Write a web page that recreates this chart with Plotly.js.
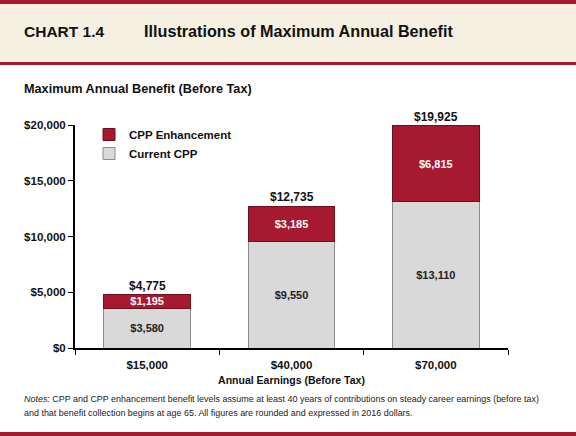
<!DOCTYPE html>
<html><head><meta charset="utf-8">
<script src="https://cdn.plot.ly/plotly-3.0.1.min.js"></script>
<style>html,body{margin:0;padding:0;background:#fff}</style>
</head><body>
<div id="chart" style="width:576px;height:436px"></div>
<script>
const categories = ['$15,000', '$40,000', '$70,000'];
const currentCPP = [3580, 9550, 13110];
const enhancement = [1195, 3185, 6815];
const yTicks = [0, 5000, 10000, 15000, 20000];
const yTickLabels = ['$0', '$5,000', '$10,000', '$15,000', '$20,000'];

const FONT = '"Liberation Sans Narrow", "Arial Narrow", "Liberation Sans", Arial, sans-serif';
const RED = '#A6192E';
const fmt = v => '$' + v.toLocaleString('en-US');

const totals = categories.map((c, i) => currentCPP[i] + enhancement[i]);

const traces = [
  {
    type: 'bar', name: 'Current CPP', x: categories, y: currentCPP,
    marker: {color: '#D9D9D9', line: {color: '#8C8C8C', width: 1}},
    text: currentCPP.map(fmt), textposition: 'inside', insidetextanchor: 'middle', constraintext: 'none',
    textfont: {family: FONT, size: 11, color: '#222', weight: 'bold'},
    hoverinfo: 'none', width: 0.6
  },
  {
    type: 'bar', name: 'CPP Enhancement', x: categories, y: enhancement,
    marker: {color: RED, line: {color: '#6E1020', width: 1}},
    text: enhancement.map(fmt), textposition: 'inside', insidetextanchor: 'middle', constraintext: 'none',
    textfont: {family: FONT, size: 11, color: '#fff', weight: 'bold'},
    hoverinfo: 'none', width: 0.6
  }
];

const annotations = categories.map((c, i) => ({
  x: c, y: totals[i], xref: 'x', yref: 'y', text: fmt(totals[i]),
  showarrow: false, yanchor: 'bottom', yshift: 0,
  font: {family: FONT, size: 12, color: '#111', weight: 'bold'}
}));

annotations.push(
  {xref: 'paper', yref: 'paper', x: -53/433, y: 1 + (125-31)/223, xanchor: 'left', yanchor: 'middle',
   text: '<b>CHART 1.4</b>', showarrow: false, font: {family: FONT, size: 15.5, color: '#111'}},
  {xref: 'paper', yref: 'paper', x: (142-75)/433, y: 1 + (125-31)/223, xanchor: 'left', yanchor: 'middle',
   text: '<b>Illustrations of Maximum Annual Benefit</b>', showarrow: false, font: {family: FONT, size: 16.2, color: '#111'}},
  {xref: 'paper', yref: 'paper', x: -53/433, y: 1 + (125-89)/223, xanchor: 'left', yanchor: 'middle',
   text: '<b>Maximum Annual Benefit (Before Tax)</b>', showarrow: false, font: {family: FONT, size: 12.7, color: '#111'}},
  {xref: 'paper', yref: 'paper', x: -53/433, y: -(399-348)/223, xanchor: 'left', yanchor: 'middle', align: 'left',
   text: '<i>Notes:</i> CPP and CPP enhancement benefit levels assume at least 40 years of contributions on steady career earnings (before tax)',
   showarrow: false, font: {family: FONT, size: 8.95, color: '#222'}},
  {xref: 'paper', yref: 'paper', x: -53/433, y: -(413-348)/223, xanchor: 'left', yanchor: 'middle', align: 'left',
   text: 'and that benefit collection begins at age 65. All figures are rounded and expressed in 2016 dollars.',
   showarrow: false, font: {family: FONT, size: 8.95, color: '#222'}}
);

const shapes = [
  {type: 'rect', xref: 'paper', yref: 'paper', x0: -1, x1: 2, y0: 1 + (125-62)/223, y1: 1 + (125-4)/223,
   fillcolor: '#F6F0E2', line: {width: 0}, layer: 'below'},
  {type: 'rect', xref: 'paper', yref: 'paper', x0: -1, x1: 2, y0: 1 + (125-4)/223, y1: 1 + 125/223,
   fillcolor: RED, line: {width: 0}},
  {type: 'rect', xref: 'paper', yref: 'paper', x0: -1, x1: 2, y0: 1 + (125-65)/223, y1: 1 + (125-62)/223,
   fillcolor: RED, line: {width: 0}},
  {type: 'rect', xref: 'paper', yref: 'paper', x0: -1, x1: 2, y0: -(436-348)/223, y1: -(432-348)/223,
   fillcolor: RED, line: {width: 0}}
];

const layout = {
  width: 576, height: 436,
  margin: {l: 75, r: 68, t: 125, b: 88},
  paper_bgcolor: '#fff', plot_bgcolor: '#fff',
  barmode: 'stack', bargap: 0.4,
  showlegend: true,
  legend: {x: (89-75)/433, y: 1 + 5/223, xanchor: 'left', yanchor: 'top', bgcolor: 'rgba(0,0,0,0)',
           font: {family: FONT, size: 11.5, color: '#111', weight: 'bold'}, itemwidth: 30, tracegroupgap: 2},
  xaxis: {
    type: 'category', tickson: 'boundaries', ticks: 'outside', ticklen: 5, tickcolor: '#000',
    showline: true, linecolor: '#000', linewidth: 2, showgrid: false, ticklabelstandoff: 5,
    tickfont: {family: FONT, size: 11.5, color: '#111', weight: 'bold'},
    title: {text: '<b>Annual Earnings (Before Tax)</b>', font: {family: FONT, size: 10.5, color: '#111'}, standoff: 7},
    fixedrange: true
  },
  yaxis: {
    range: [0, 20000], tickvals: yTicks, ticktext: yTickLabels,
    ticks: 'outside', ticklen: 5, tickcolor: '#000',
    showline: true, linecolor: '#000', linewidth: 2, showgrid: false, zeroline: false,
    tickfont: {family: FONT, size: 11.5, color: '#111', weight: 'bold'},
    fixedrange: true
  },
  annotations: annotations,
  shapes: shapes
};

Plotly.newPlot('chart', traces, layout, {displayModeBar: false, staticPlot: true});
</script>
</body></html>
